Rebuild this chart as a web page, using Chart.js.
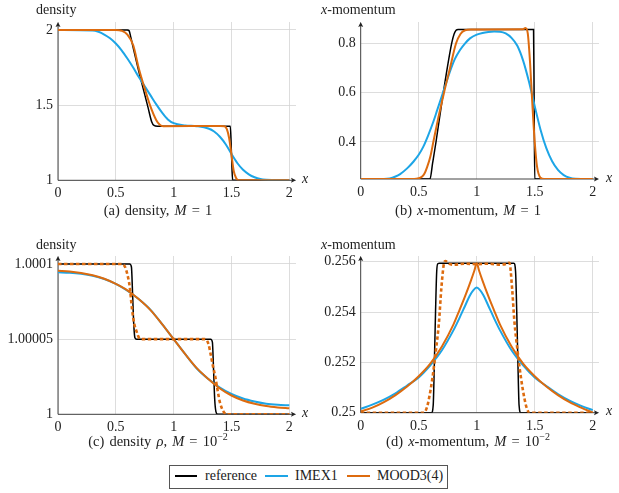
<!DOCTYPE html>
<html>
<head>
<meta charset="utf-8">
<script src="https://cdn.jsdelivr.net/npm/chart.js@4.4.1/dist/chart.umd.min.js"></script>
<style>
body{margin:0;background:#fff;width:619px;height:493px;position:relative;overflow:hidden;font-family:"Liberation Serif","Times New Roman","DejaVu Serif",serif;color:#222;}
canvas{position:absolute;}
.t{position:absolute;font-size:14px;white-space:nowrap;z-index:2;line-height:16px;}
.cap{text-align:center;font-size:14.5px;word-spacing:1.5px;}
i{font-style:italic;}
sup{font-size:10px;line-height:0;}
.lg{position:absolute;left:169px;top:465px;width:277px;height:22px;border:1px solid #555;z-index:2;}
.sw{position:absolute;height:0;border-top:2px solid;}
</style>
</head>
<body>
<canvas id="c1" width="310" height="215" style="left:0;top:0"></canvas>
<canvas id="c2" width="314" height="215" style="left:305px;top:0"></canvas>
<canvas id="c3" width="310" height="215" style="left:0;top:230px"></canvas>
<canvas id="c4" width="314" height="215" style="left:305px;top:230px"></canvas>

<div class="t" style="left:36px;top:2px">density</div>
<div class="t" style="left:321px;top:2px"><i>x</i>-momentum</div>
<div class="t" style="left:36px;top:237px">density</div>
<div class="t" style="left:321px;top:237px"><i>x</i>-momentum</div>
<div class="t" style="left:302px;top:171px"><i>x</i></div>
<div class="t" style="left:606px;top:170px"><i>x</i></div>
<div class="t" style="left:302px;top:405px"><i>x</i></div>
<div class="t" style="left:606px;top:403px"><i>x</i></div>
<div class="t cap" style="left:0;width:316px;top:202px">(a) density, <i>M</i> = 1</div>
<div class="t cap" style="left:318px;width:300px;top:202px">(b) <i>x</i>-momentum, <i>M</i> = 1</div>
<div class="t cap" style="left:0;width:316px;top:433px">(c) density <i>ρ</i>, <i>M</i> = 10<sup>−2</sup></div>
<div class="t cap" style="left:318px;width:300px;top:433px">(d) <i>x</i>-momentum, <i>M</i> = 10<sup>−2</sup></div>

<div class="lg"></div>
<div class="sw" style="left:175px;top:475px;width:22px;border-color:#000;z-index:3"></div>
<div class="t" style="left:205px;top:468px">reference</div>
<div class="sw" style="left:265px;top:475px;width:23px;border-color:#1DA5E6;z-index:3"></div>
<div class="t" style="left:295px;top:468px">IMEX1</div>
<div class="sw" style="left:347px;top:475px;width:23px;border-color:#DD6B0F;z-index:3"></div>
<div class="t" style="left:377px;top:468px">MOOD3(4)</div>

<script>
var xTicks = [0, 0.5, 1, 1.5, 2];
var xLabels = ["0", "0.5", "1", "1.5", "2"];

// (a) density, M = 1
var aTicks = [1, 1.5, 2];
var aLabels = ["1", "1.5", "2"];
var aRefX = [0, 0.6, 0.615, 0.63, 0.66, 0.7, 0.74, 0.78, 0.81, 0.83, 0.86, 1.49, 1.5, 1.51, 2];
var aRefY = [2, 2, 1.995, 1.95, 1.85, 1.72, 1.6, 1.48, 1.39, 1.365, 1.36, 1.36, 1.18, 1, 1];
var aImexX = [0, 0.3, 0.35, 0.4, 0.45, 0.5, 0.55, 0.6, 0.65, 0.7, 0.75, 0.8, 0.85, 0.9, 0.95, 1.0, 1.1, 1.2, 1.3, 1.35, 1.4, 1.45, 1.5, 1.55, 1.6, 1.65, 1.7, 1.75, 1.8, 1.9, 2];
var aImexY = [2, 1.997, 1.988, 1.97, 1.945, 1.91, 1.865, 1.81, 1.75, 1.685, 1.625, 1.565, 1.505, 1.45, 1.405, 1.38, 1.365, 1.36, 1.345, 1.325, 1.29, 1.24, 1.175, 1.115, 1.07, 1.04, 1.02, 1.008, 1.003, 1, 1];
var aMoodX = [0, 0.5, 0.55, 0.6, 0.65, 0.7, 0.75, 0.8, 0.85, 0.88, 0.91, 1.4, 1.44, 1.46, 1.48, 1.5, 1.52, 1.54, 1.56, 2];
var aMoodY = [2, 2, 1.995, 1.97, 1.9, 1.74, 1.61, 1.49, 1.4, 1.37, 1.36, 1.362, 1.36, 1.34, 1.28, 1.17, 1.06, 1.015, 1, 1];

// (b) x-momentum, M = 1
var bTicks = [0.4, 0.6, 0.8];
var bLabels = ["0.4", "0.6", "0.8"];
var bRefX = [0, 0.597, 0.62, 0.649, 0.712, 0.784, 0.805, 0.822, 0.84, 1.49, 1.495, 1.5, 2];
var bRefY = [0.25, 0.25, 0.315, 0.4, 0.6, 0.8, 0.838, 0.853, 0.856, 0.856, 0.55, 0.25, 0.25];
var bImexX = [0, 0.2, 0.25, 0.3, 0.34, 0.4, 0.454, 0.5, 0.54, 0.58, 0.626, 0.66, 0.698, 0.73, 0.769, 0.81, 0.856, 0.9, 0.942, 1.0, 1.05, 1.1, 1.15, 1.2, 1.25, 1.3, 1.35, 1.4, 1.45, 1.5, 1.55, 1.6, 1.65, 1.7, 1.75, 1.8, 1.85, 2];
var bImexY = [0.25, 0.25, 0.252, 0.26, 0.27, 0.293, 0.32, 0.348, 0.381, 0.425, 0.482, 0.53, 0.584, 0.63, 0.685, 0.735, 0.773, 0.8, 0.82, 0.835, 0.842, 0.846, 0.848, 0.847, 0.84, 0.822, 0.79, 0.73, 0.645, 0.545, 0.45, 0.375, 0.322, 0.287, 0.266, 0.255, 0.251, 0.25];
var bMoodX = [0, 0.46, 0.5, 0.53, 0.55, 0.57, 0.6, 0.626, 0.67, 0.718, 0.77, 0.822, 0.86, 0.9, 0.95, 1.4, 1.42, 1.44, 1.46, 1.48, 1.5, 1.52, 1.55, 1.58, 2];
var bMoodY = [0.25, 0.25, 0.253, 0.26, 0.272, 0.295, 0.34, 0.4, 0.5, 0.6, 0.7, 0.8, 0.838, 0.853, 0.856, 0.857, 0.862, 0.84, 0.72, 0.55, 0.4, 0.3, 0.255, 0.25, 0.25];

// (c) density rho, M = 1e-2
var cTicks = [1, 1.00005, 1.0001];
var cLabels = ["1", "1.00005", "1.0001"];
var cRefX = [0, 0.62, 0.635, 0.645, 0.655, 0.665, 0.68, 1.32, 1.335, 1.345, 1.355, 1.365, 1.38, 2];
var cRefY = [1.0001, 1.0001, 1.000098, 1.00008, 1.00006, 1.000051, 1.00005, 1.00005, 1.000048, 1.00003, 1.00001, 1.000002, 1, 1];
var cSmoothX = [0, 0.1, 0.2, 0.3, 0.4, 0.5, 0.6, 0.7, 0.8, 0.9, 1, 1.1, 1.2, 1.3, 1.4, 1.5, 1.6, 1.7, 1.8, 1.9, 2];
var cImexY = [1.0000945, 1.0000942, 1.0000935, 1.0000922, 1.00009, 1.0000868, 1.0000822, 1.0000765, 1.0000695, 1.00006, 1.00005, 1.00004, 1.0000305, 1.0000235, 1.0000178, 1.0000135, 1.0000105, 1.0000085, 1.000007, 1.0000063, 1.000006];
var cMoodY = [1.0000955, 1.000095, 1.000094, 1.0000925, 1.0000902, 1.0000868, 1.0000825, 1.0000765, 1.0000693, 1.00006, 1.00005, 1.00004, 1.0000307, 1.0000235, 1.0000172, 1.0000125, 1.0000092, 1.000007, 1.0000055, 1.0000046, 1.000004];
var cDashX = [0, 0.55, 0.58, 0.6, 0.62, 0.64, 0.66, 0.68, 0.7, 0.73, 1.27, 1.3, 1.32, 1.34, 1.36, 1.38, 1.4, 1.43, 1.46, 2];
var cDashY = [1.0001, 1.0001, 1.000098, 1.000093, 1.000085, 1.00007, 1.00006, 1.000055, 1.000051, 1.00005, 1.00005, 1.000047, 1.00004, 1.000032, 1.000025, 1.000016, 1.000008, 1.000002, 1, 1];

// (d) x-momentum, M = 1e-2
var dTicks = [0.25, 0.252, 0.254, 0.256];
var dLabels = ["0.25", "0.252", "0.254", "0.256"];
var dRefX = [0, 0.61, 0.625, 0.635, 0.645, 0.655, 0.665, 0.68, 1.32, 1.335, 1.345, 1.355, 1.365, 1.38, 2];
var dRefY = [0.25, 0.25, 0.2503, 0.252, 0.254, 0.2556, 0.25592, 0.25594, 0.25594, 0.2556, 0.254, 0.252, 0.2503, 0.25, 0.25];
var dImexX = [0, 0.1, 0.2, 0.3, 0.4, 0.5, 0.6, 0.7, 0.8, 0.85, 0.9, 0.94, 0.97, 1, 1.03, 1.06, 1.1, 1.15, 1.2, 1.3, 1.4, 1.5, 1.6, 1.7, 1.8, 1.9, 2];
var dImexY = [0.25015, 0.25032, 0.25052, 0.25077, 0.25108, 0.2514, 0.25188, 0.25248, 0.25328, 0.25375, 0.25425, 0.25465, 0.25486, 0.25497, 0.25486, 0.25465, 0.25425, 0.25375, 0.25328, 0.25248, 0.25188, 0.2514, 0.25106, 0.25074, 0.25048, 0.25027, 0.2501];
var dMoodX = [0, 0.1, 0.2, 0.3, 0.4, 0.5, 0.6, 0.7, 0.8, 0.85, 0.9, 0.95, 0.98, 1, 1.02, 1.05, 1.1, 1.15, 1.2, 1.3, 1.4, 1.5, 1.6, 1.7, 1.8, 1.9, 2];
var dMoodY = [0.25005, 0.2502, 0.25042, 0.2507, 0.25104, 0.25145, 0.25195, 0.25263, 0.25351, 0.25406, 0.25463, 0.25525, 0.25565, 0.25594, 0.25565, 0.25525, 0.25463, 0.25406, 0.25351, 0.25263, 0.25195, 0.25145, 0.25104, 0.2507, 0.25042, 0.2502, 0.25];
var dDashX = [0, 0.53, 0.546, 0.57, 0.589, 0.618, 0.647, 0.675, 0.695, 0.718, 0.73, 0.76, 0.8, 0.9, 1, 1.1, 1.2, 1.26, 1.282, 1.305, 1.325, 1.353, 1.382, 1.411, 1.43, 1.454, 1.47, 2];
var dDashY = [0.25, 0.25, 0.25, 0.2502, 0.25057, 0.25137, 0.25242, 0.25362, 0.25494, 0.25594, 0.25603, 0.25592, 0.25588, 0.25592, 0.2559, 0.25592, 0.25588, 0.25592, 0.25596, 0.25494, 0.25362, 0.25242, 0.25137, 0.25057, 0.2502, 0.25, 0.25, 0.25];

var BLACK = "#000000", BLUE = "#1DA5E6", ORANGE = "#DD6B0F";

function pts(xs, ys){
  return xs.map(function(x, i){ return {x: x, y: ys[i]}; });
}
function line(label, xs, ys, color, width, dash){
  return {
    label: label, data: pts(xs, ys), borderColor: color, backgroundColor: color,
    borderWidth: width, borderDash: dash || [], pointRadius: 0, fill: false,
    cubicInterpolationMode: "monotone"
  };
}

var axesArrows = {
  id: "axesArrows",
  beforeDatasetsDraw: function(chart){
    var ctx = chart.ctx, a = chart.chartArea;
    ctx.save();
    ctx.strokeStyle = "#444"; ctx.fillStyle = "#222"; ctx.lineWidth = 1;
    ctx.beginPath();
    ctx.moveTo(a.left, a.bottom); ctx.lineTo(a.right - 3, a.bottom);
    ctx.moveTo(a.left, a.bottom); ctx.lineTo(a.left, a.top + 3);
    ctx.stroke();
    ctx.beginPath();
    ctx.moveTo(a.right, a.bottom); ctx.lineTo(a.right - 5, a.bottom - 2.5); ctx.lineTo(a.right - 4, a.bottom); ctx.lineTo(a.right - 5, a.bottom + 2.5);
    ctx.closePath(); ctx.fill();
    ctx.beginPath();
    ctx.moveTo(a.left, a.top); ctx.lineTo(a.left - 2.5, a.top + 5); ctx.lineTo(a.left, a.top + 4); ctx.lineTo(a.left + 2.5, a.top + 5);
    ctx.closePath(); ctx.fill();
    ctx.restore();
  }
};

function makeChart(id, o){
  var font = {family: "'Liberation Serif', 'Times New Roman', 'DejaVu Serif', serif", size: 14};
  return new Chart(document.getElementById(id), {
    type: "line",
    data: {datasets: o.datasets},
    options: {
      responsive: false, animation: false, devicePixelRatio: 1,
      layout: {padding: {top: o.padTop, right: o.padRight, left: 0, bottom: 0}},
      plugins: {legend: {display: false}, tooltip: {enabled: false}},
      scales: {
        x: {
          type: "linear", min: 0, max: o.xMax,
          afterBuildTicks: function(s){ s.ticks = xTicks.map(function(v){ return {value: v}; }); },
          afterFit: function(s){ s.height = o.axisH; },
          grid: {color: "#d4d4d4", lineWidth: 0.8, drawTicks: false},
          border: {display: false},
          ticks: {font: font, color: "#222", padding: 5, maxRotation: 0, autoSkip: false,
            callback: function(v, i){ return xLabels[i]; }}
        },
        y: {
          type: "linear", min: o.yMin, max: o.yMax,
          afterBuildTicks: function(s){ s.ticks = o.yTicks.map(function(v){ return {value: v}; }); },
          afterFit: function(s){ s.width = o.axisW; },
          grid: {color: "#d4d4d4", lineWidth: 0.8, drawTicks: false},
          border: {display: false},
          ticks: {font: font, color: "#222", padding: 5, autoSkip: false,
            callback: function(v, i){ return o.yLabels[i]; }}
        }
      }
    },
    plugins: [axesArrows]
  });
}

makeChart("c1", {
  xMax: 2.058, yMin: 1, yMax: 2.0532, yTicks: aTicks, yLabels: aLabels,
  padTop: 22, padRight: 14, axisW: 58, axisH: 34.7,
  datasets: [
    line("MOOD3(4)", aMoodX, aMoodY, ORANGE, 2),
    line("IMEX1", aImexX, aImexY, BLUE, 2),
    line("reference", aRefX, aRefY, BLACK, 1.5)
  ]
});
makeChart("c2", {
  xMax: 2.054, yMin: 0.25, yMax: 0.8864, yTicks: bTicks, yLabels: bLabels,
  padTop: 22, padRight: 20, axisW: 55.7, axisH: 36,
  datasets: [
    line("MOOD3(4)", bMoodX, bMoodY, ORANGE, 2),
    line("IMEX1", bImexX, bImexY, BLUE, 2),
    line("reference", bRefX, bRefY, BLACK, 1.5)
  ]
});
makeChart("c3", {
  xMax: 2.058, yMin: 1, yMax: 1.00010532, yTicks: cTicks, yLabels: cLabels,
  padTop: 26, padRight: 14, axisW: 58, axisH: 30.7,
  datasets: [
    line("MOOD3(4) dashed", cDashX, cDashY, ORANGE, 2.6, [3.5, 2.5]),
    line("MOOD3(4)", cSmoothX, cMoodY, ORANGE, 2),
    line("IMEX1", cSmoothX, cImexY, BLUE, 2),
    line("reference", cRefX, cRefY, BLACK, 1.5)
  ]
});
makeChart("c4", {
  xMax: 2.054, yMin: 0.25, yMax: 0.256226, yTicks: dTicks, yLabels: dLabels,
  padTop: 26, padRight: 20, axisW: 55.7, axisH: 32.3,
  datasets: [
    line("MOOD3(4) dashed", dDashX, dDashY, ORANGE, 2.6, [3.5, 2.5]),
    line("MOOD3(4)", dMoodX, dMoodY, ORANGE, 2),
    line("IMEX1", dImexX, dImexY, BLUE, 2),
    line("reference", dRefX, dRefY, BLACK, 1.5)
  ]
});
</script>
</body>
</html>
